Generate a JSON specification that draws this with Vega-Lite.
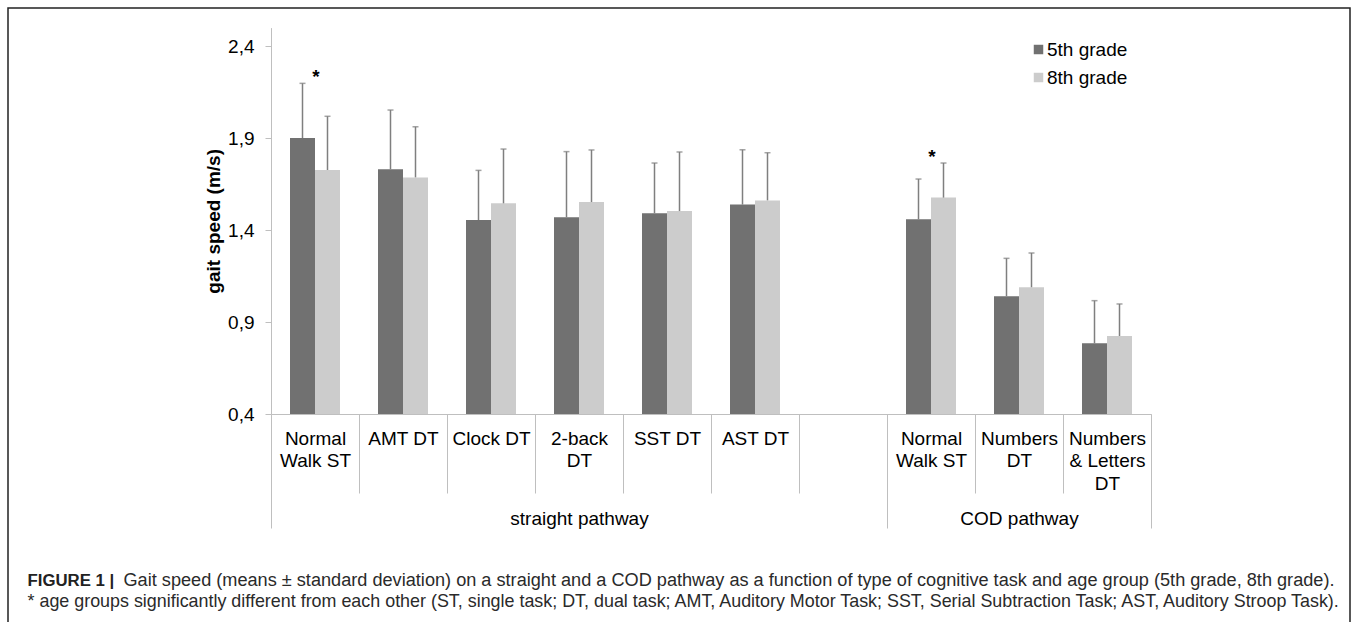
{
  "$schema": "https://vega.github.io/schema/vega-lite/v6.json",
  "width": 1342,
  "height": 620,
  "autosize": "none",
  "padding": {"left": 8, "top": 8, "right": 7, "bottom": 0},
  "background": "white",
  "config": {
    "font": "Liberation Sans",
    "view": {"stroke": "#222222", "strokeWidth": 1.5, "fill": "white"},
    "axis": {"grid": false}
  },
  "datasets": {
    "speed": [
      {"slot": "Normal|Walk ST", "grade": "5th grade", "mean": 1.9, "upper": 2.197, "sig": true},
      {"slot": "Normal|Walk ST", "grade": "8th grade", "mean": 1.726, "upper": 2.018, "sig": true},
      {"slot": "AMT DT", "grade": "5th grade", "mean": 1.73, "upper": 2.052, "sig": false},
      {"slot": "AMT DT", "grade": "8th grade", "mean": 1.686, "upper": 1.961, "sig": false},
      {"slot": "Clock DT", "grade": "5th grade", "mean": 1.454, "upper": 1.724, "sig": false},
      {"slot": "Clock DT", "grade": "8th grade", "mean": 1.545, "upper": 1.84, "sig": false},
      {"slot": "2-back|DT", "grade": "5th grade", "mean": 1.469, "upper": 1.826, "sig": false},
      {"slot": "2-back|DT", "grade": "8th grade", "mean": 1.552, "upper": 1.835, "sig": false},
      {"slot": "SST DT", "grade": "5th grade", "mean": 1.491, "upper": 1.764, "sig": false},
      {"slot": "SST DT", "grade": "8th grade", "mean": 1.503, "upper": 1.824, "sig": false},
      {"slot": "AST DT", "grade": "5th grade", "mean": 1.538, "upper": 1.836, "sig": false},
      {"slot": "AST DT", "grade": "8th grade", "mean": 1.561, "upper": 1.82, "sig": false},
      {"slot": "Normal|Walk ST ", "grade": "5th grade", "mean": 1.458, "upper": 1.677, "sig": true},
      {"slot": "Normal|Walk ST ", "grade": "8th grade", "mean": 1.576, "upper": 1.764, "sig": true},
      {"slot": "Numbers|DT", "grade": "5th grade", "mean": 1.04, "upper": 1.246, "sig": false},
      {"slot": "Numbers|DT", "grade": "8th grade", "mean": 1.089, "upper": 1.275, "sig": false},
      {"slot": "Numbers|& Letters|DT", "grade": "5th grade", "mean": 0.784, "upper": 1.016, "sig": false},
      {"slot": "Numbers|& Letters|DT", "grade": "8th grade", "mean": 0.824, "upper": 0.998, "sig": false}
    ],
    "groups": [
      {"group": "straight pathway", "start": 0, "end": 7, "mid": 3.5},
      {"group": "COD pathway", "start": 7, "end": 10, "mid": 8.5}
    ]
  },
  "resolve": {"scale": {"x": "independent"}, "axis": {"x": "independent"}},
  "layer": [
    {
      "data": {"name": "speed"},
      "encoding": {
        "x": {
          "field": "slot",
          "type": "nominal",
          "scale": {
            "domain": ["Normal|Walk ST", "AMT DT", "Clock DT", "2-back|DT", "SST DT", "AST DT", "gap", "Normal|Walk ST ", "Numbers|DT", "Numbers|& Letters|DT"],
            "range": [263, 1143],
            "paddingInner": 0,
            "paddingOuter": 0
          },
          "axis": {
            "orient": "bottom",
            "offset": -214,
            "labelExpr": "datum.label == 'gap' ? '' : split(datum.label, '|')",
            "labelAngle": 0,
            "labelAlign": "center",
            "labelBaseline": "top",
            "labelFontSize": 19,
            "labelColor": "#000000",
            "labelLineHeight": 22.5,
            "labelPadding": -64,
            "labelLimit": 0,
            "tickBand": "extent",
            "tickSize": 79,
            "tickColor": "#bfbfbf",
            "domainColor": "#bfbfbf",
            "title": "* age groups significantly different from each other (ST, single task; DT, dual task; AMT, Auditory Motor Task; SST, Serial Subtraction Task; AST, Auditory Stroop Task).",
            "titleX": 19,
            "titleY": 192.7,
            "titleAnchor": "start",
            "titleAlign": "left",
            "titleBaseline": "alphabetic",
            "titleFontSize": 17.9,
            "titleFontWeight": "normal",
            "titleColor": "#2a2a2a",
            "titleLimit": 0
          }
        }
      },
      "layer": [
        {
          "mark": {"type": "bar"},
          "encoding": {
            "xOffset": {"field": "grade", "type": "nominal", "scale": {"paddingInner": 0, "paddingOuter": 0.76}},
            "y": {
              "field": "mean",
              "type": "quantitative",
              "scale": {"domain": [0.4, 2.5], "range": [406, 19.6], "zero": false, "nice": false},
              "axis": {
                "orient": "left",
                "offset": -263,
                "values": [0.4, 0.9, 1.4, 1.9, 2.4],
                "labelExpr": "replace(format(datum.value, '.1f'), '.', ',')",
                "labelFontSize": 19,
                "labelColor": "#000000",
                "labelPadding": 11,
                "tickSize": 6,
                "tickColor": "#bfbfbf",
                "domainColor": "#bfbfbf",
                "title": "gait speed (m/s)",
                "titleFontSize": 19,
                "titleFontWeight": "bold",
                "titleColor": "#000000",
                "titlePadding": 4
              }
            },
            "y2": {"datum": 0.4},
            "color": {
              "field": "grade",
              "type": "nominal",
              "scale": {"domain": ["5th grade", "8th grade"], "range": ["#717171", "#cccccc"]},
              "legend": {
                "title": null,
                "orient": "none",
                "legendX": 1021,
                "legendY": 32,
                "symbolType": "square",
                "symbolSize": 90,
                "symbolStrokeWidth": 0,
                "labelFontSize": 19,
                "labelColor": "#000000",
                "labelOffset": -1,
                "rowPadding": 8,
                "padding": 0
              }
            }
          }
        },
        {
          "mark": {"type": "rule", "color": "#7f7f7f", "strokeWidth": 1.5},
          "encoding": {
            "xOffset": {"field": "grade", "type": "nominal"},
            "y": {"field": "mean", "type": "quantitative"},
            "y2": {"field": "upper"}
          }
        },
        {
          "mark": {"type": "tick", "color": "#7f7f7f", "thickness": 1.5, "size": 6},
          "encoding": {
            "xOffset": {"field": "grade", "type": "nominal"},
            "y": {"field": "upper", "type": "quantitative"}
          }
        },
        {
          "transform": [
            {"filter": "datum.sig"},
            {"aggregate": [{"op": "max", "field": "upper", "as": "top"}], "groupby": ["slot"]}
          ],
          "mark": {"type": "text", "text": "*", "fontSize": 19, "fontWeight": "bold", "baseline": "alphabetic", "color": "#000000", "dx": 1, "dy": 0},
          "encoding": {
            "y": {"field": "top", "type": "quantitative"}
          }
        }
      ]
    },
    {
      "data": {"name": "groups"},
      "mark": {"type": "rule", "opacity": 0},
      "encoding": {
        "x": {
          "field": "end",
          "type": "quantitative",
          "scale": {"domain": [0, 10], "range": [263, 1143], "zero": false, "nice": false},
          "axis": {
            "orient": "bottom",
            "offset": -214,
            "values": [0, 7, 10],
            "domain": false,
            "labels": false,
            "tickSize": 114,
            "tickColor": "#bfbfbf",
            "title": "FIGURE 1 |",
            "titleX": 19,
            "titleY": 171,
            "titleAnchor": "start",
            "titleAlign": "left",
            "titleBaseline": "alphabetic",
            "titleFontSize": 16.8,
            "titleFontWeight": "bold",
            "titleColor": "#222222"
          }
        }
      }
    },
    {
      "data": {"name": "groups"},
      "mark": {"type": "rule", "opacity": 0},
      "encoding": {
        "x": {
          "field": "mid",
          "type": "quantitative",
          "scale": {"domain": [0, 10], "range": [263, 1143], "zero": false, "nice": false},
          "axis": {
            "orient": "bottom",
            "offset": -214,
            "values": [3.5, 8.5],
            "domain": false,
            "ticks": true,
            "tickSize": 0,
            "tickOpacity": 0,
            "labelExpr": "datum.value < 5 ? 'straight pathway' : 'COD pathway'",
            "labelFontSize": 19,
            "labelColor": "#000000",
            "labelBaseline": "alphabetic",
            "labelPadding": 110,
            "labelFlush": false,
            "labelAngle": 0,
            "title": "Gait speed (means ± standard deviation) on a straight and a COD pathway as a function of type of cognitive task and age group (5th grade, 8th grade).",
            "titleX": 115,
            "titleY": 171,
            "titleAnchor": "start",
            "titleAlign": "left",
            "titleBaseline": "alphabetic",
            "titleFontSize": 18.15,
            "titleFontWeight": "normal",
            "titleColor": "#2a2a2a",
            "titleLimit": 0
          }
        }
      }
    }
  ]
}
